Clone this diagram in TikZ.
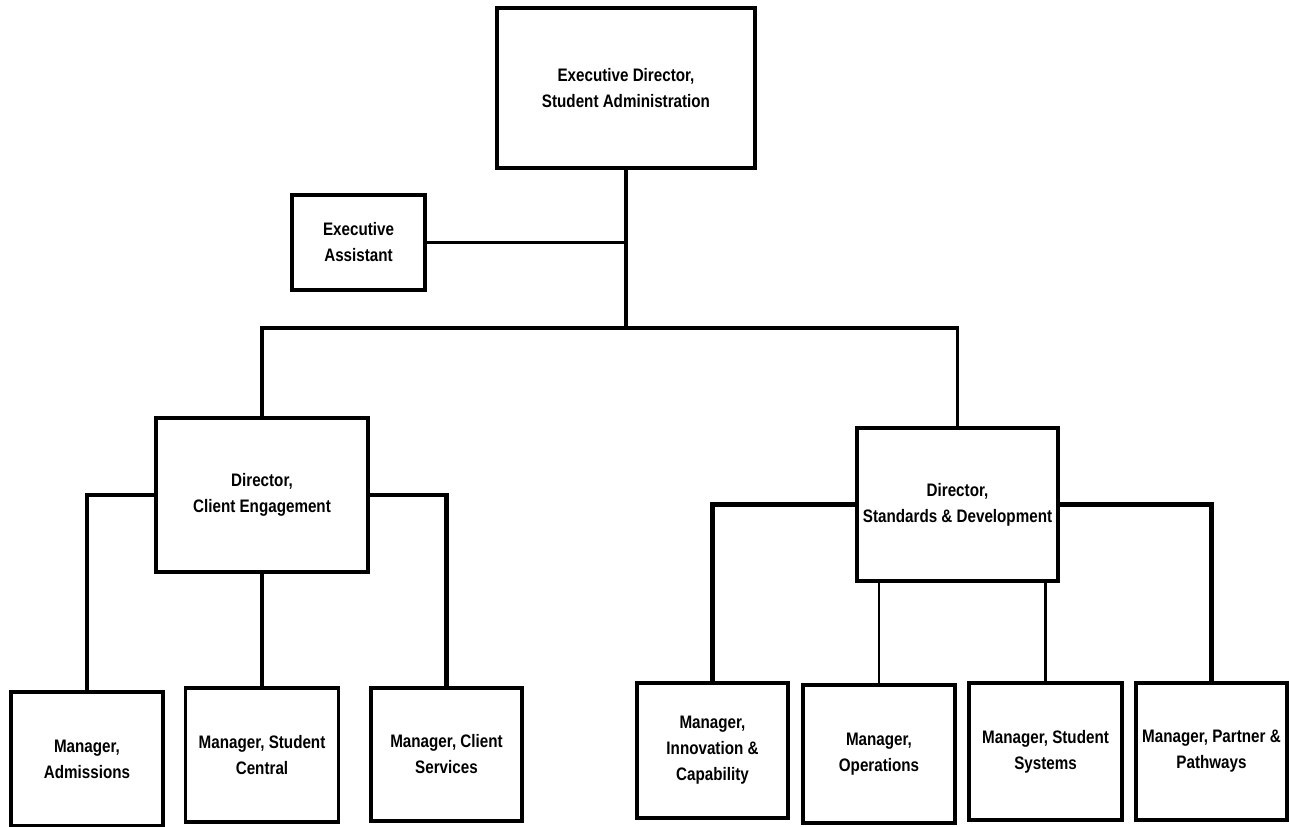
\documentclass[tikz,border=0pt]{standalone}
\usepackage{fontspec}
\setmainfont{Liberation Sans}[FakeStretch=0.84]
\usetikzlibrary{positioning, calc}
\tikzstyle{orgbox} = [rectangle, draw=black, line width=2pt, inner sep=0pt, align=center, text centered, fill=white]
\tikzstyle{link} = [line width=2pt]
\tikzstyle{wide link} = [line width=2.8pt]
\tikzstyle{thin link} = [line width=1.3pt]

\begin{document}
\begin{tikzpicture}[x=0.02cm, y=-0.02cm, every node/.style={font=\fontsize{10.3}{14.8}\selectfont\bfseries}]
    \useasboundingbox (0,0) rectangle (1290,827);

    % Vertici
    \node (exec) [orgbox, minimum width=5.16cm, minimum height=3.2cm] at (626,88) {Executive Director,\\Student Administration};
    \node (assist) [orgbox, minimum width=2.66cm, minimum height=1.9cm] at (358.5,242.5) {Executive\\Assistant};
    \node (dirce) [orgbox, minimum width=4.24cm, minimum height=3.08cm] at (262,495) {Director,\\Client Engagement};
    \node (dirsd) [orgbox, minimum width=4.02cm, minimum height=3.06cm] at (957.5,504.5) {Director,\\Standards \& Development};

    % Manager sotto Client Engagement
    \node (admis) [orgbox, minimum width=3.04cm, minimum height=2.68cm] at (87,759) {Manager,\\Admissions};
    \node (central) [orgbox, minimum width=3.06cm, minimum height=2.68cm] at (262,755) {Manager, Student\\Central};
    \node (services) [orgbox, minimum width=3.02cm, minimum height=2.66cm] at (446.5,754.5) {Manager, Client\\Services};

    % Manager sotto Standards & Development
    \node (innov) [orgbox, minimum width=3.02cm, minimum height=2.7cm] at (712.5,750.5) {Manager,\\Innovation \&\\Capability};
    \node (ops) [orgbox, minimum width=3.04cm, minimum height=2.76cm] at (879,754) {Manager,\\Operations};
    \node (systems) [orgbox, minimum width=3.06cm, minimum height=2.74cm] at (1045.5,751.5) {Manager, Student\\Systems};
    \node (partner) [orgbox, minimum width=3.02cm, minimum height=2.74cm] at (1211.5,751.5) {Manager, Partner \&\\Pathways};

    \coordinate (hub) at (626,328);

    % Collegamenti
    \draw [link] (exec.south) -- (hub);
    \draw [link] (assist.east) -- (assist.east -| hub);
    \draw [link] (dirce.north) |- (hub) -| (dirsd.north);
    \draw [wide link] (dirce.west) -| (admis.north);
    \draw [wide link] (dirce.east) -| (services.north);
    \draw [link] (dirce.south) -- (central.north);
    \draw [wide link] (dirsd.west) -| (innov.north);
    \draw [wide link] (dirsd.east) -| (partner.north);
    \draw [thin link] (ops.north) -- (ops.north |- dirsd.south);
    \draw [thin link] (systems.north) -- (systems.north |- dirsd.south);

\end{tikzpicture}
\end{document}
